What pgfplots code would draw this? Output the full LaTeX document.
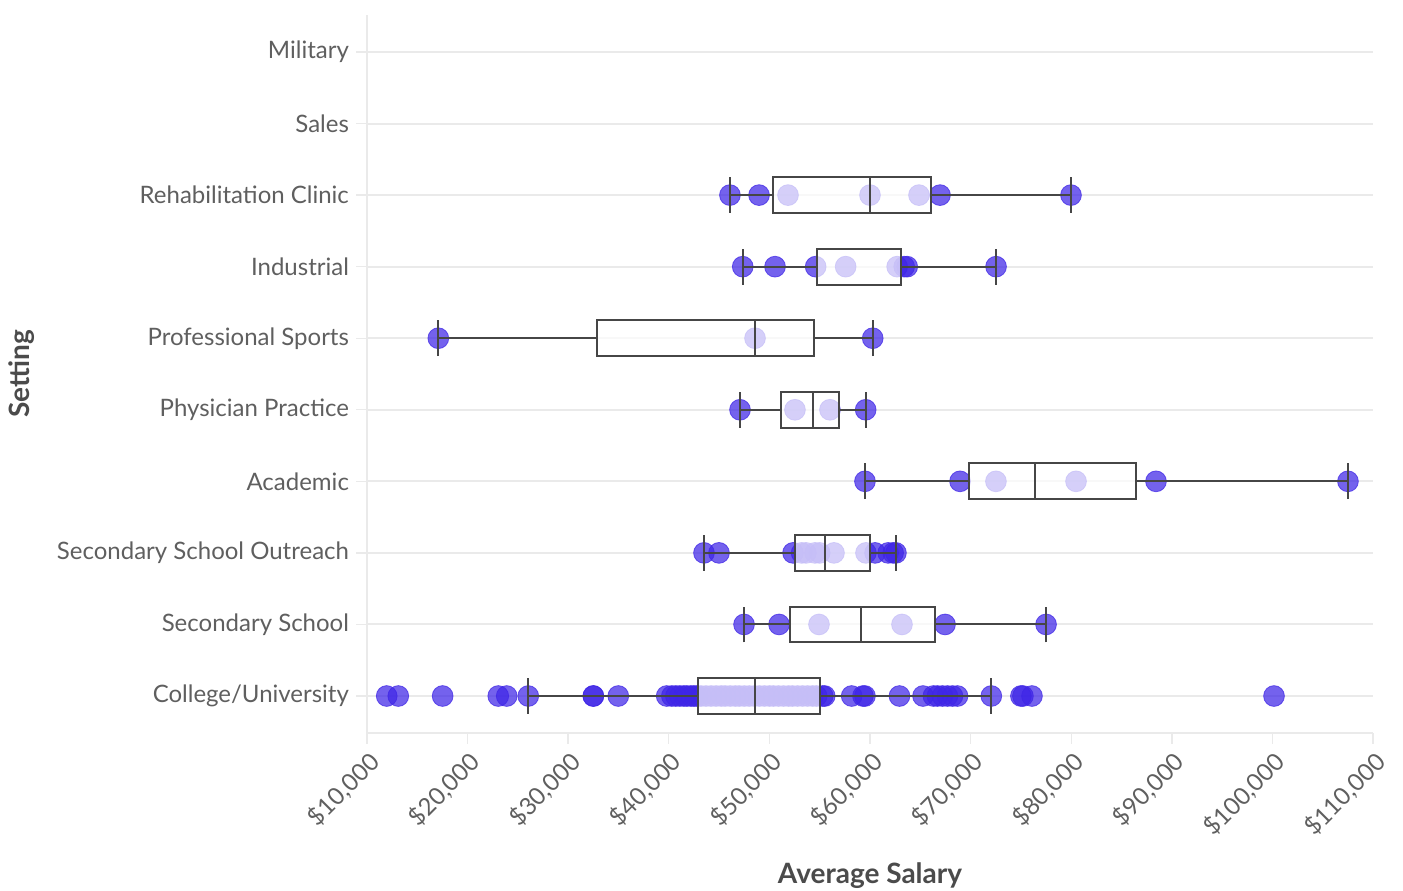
\documentclass[border=0pt]{standalone}
\usepackage{pgfplots}
\pgfplotsset{compat=1.18}
\usepgfplotslibrary{statistics}
\usepackage{pgfplotstable}
\usepackage{fontspec}
\setmainfont{Lato}
\definecolor{ptc}{RGB}{62,37,230}
\definecolor{gridc}{RGB}{234,234,234}
\definecolor{boxc}{RGB}{70,70,70}
\definecolor{txt}{RGB}{95,95,95}
\definecolor{lab}{RGB}{75,75,75}

% salary points, y = category index (0 = College/University ... 9 = Military)
\pgfplotstableread{
x y
46080 7
48970 7
51850 7
60000 7
64870 7
66960 7
79980 7
47350 6
50560 6
54600 6
57580 6
62700 6
63400 6
63700 6
72530 6
17090 5
48570 5
60270 5
47080 4
52540 4
56020 4
59570 4
59500 3
68950 3
72520 3
80480 3
88430 3
107510 3
43500 2
44990 2
52350 2
53200 2
53640 2
54530 2
55000 2
56420 2
59600 2
60500 2
61800 2
62300 2
62580 2
47480 1
50960 1
54930 1
63180 1
67460 1
77500 1
11960 0
13110 0
17520 0
23050 0
23890 0
26030 0
32500 0
32500 0
34980 0
39790 0
40300 0
40700 0
41100 0
41500 0
41800 0
42200 0
42500 0
42800 0
43200 0
43700 0
44200 0
44700 0
45200 0
45600 0
46100 0
46600 0
47000 0
47500 0
48000 0
48500 0
49000 0
49500 0
50000 0
50400 0
50900 0
51400 0
51900 0
52300 0
52800 0
53300 0
53800 0
54300 0
54700 0
55300 0
55500 0
58180 0
59300 0
59500 0
62930 0
65270 0
66300 0
66700 0
67200 0
67700 0
68200 0
68700 0
72060 0
75000 0
75200 0
76100 0
100160 0
}\pts

\begin{document}
\begin{tikzpicture}
\begin{axis}[
  scale only axis, width=503pt, height=359pt,
  clip mode=individual,
  xmin=10000, xmax=110000, ymin=-0.517, ymax=9.517,
  axis x line*=bottom, axis y line*=left,
  x axis line style={gridc, line width=1.3pt, -},
  y axis line style={gridc, line width=0.6pt, -},
  tick align=outside, major tick length=5.5pt,
  tick style={gridc, line width=0.7pt},
  xtick={10000,20000,...,110000},
  xticklabels={{\$10,000},{\$20,000},{\$30,000},{\$40,000},{\$50,000},{\$60,000},{\$70,000},{\$80,000},{\$90,000},{\$100,000},{\$110,000}},
  scaled x ticks=false,
  xticklabel style={rotate=45, anchor=north east, font=\fontsize{12}{14}\selectfont, text=txt, inner sep=2pt},
  ytick={0,...,9},
  yticklabels={College/University, Secondary School, Secondary School Outreach, Academic, Physician Practice, Professional Sports, Industrial, Rehabilitation Clinic, Sales, Military},
  yticklabel style={font=\fontsize{12}{14}\selectfont, text=txt},
  ymajorgrids, grid style={gridc, line width=1pt},
  xlabel={Average Salary}, ylabel={Setting},
  xlabel style={at={(axis description cs:0.5,-0.198)}, anchor=center, font=\bfseries\fontsize{14}{16}\selectfont, text=lab},
  ylabel style={at={(axis description cs:-0.343,0.5)}, anchor=center, font=\bfseries\fontsize{14}{16}\selectfont, text=lab},
  boxplot/box extend=0.5, boxplot/whisker extend=0.5,
]
\addplot[only marks, mark=*, mark size=5.2pt, mark options={fill=ptc, draw=ptc, fill opacity=0.72, draw opacity=0.72}] table[x=x, y=y] {\pts};

\addplot[boxplot prepared={lower whisker=46080, lower quartile=50330, median=60000, upper quartile=66060, upper whisker=79980, draw position=7}, draw=boxc, line width=1pt, fill=white, fill opacity=0.7] coordinates {};
\addplot[boxplot prepared={lower whisker=47350, lower quartile=54700, median=54700, upper quartile=63080, upper whisker=72530, draw position=6}, draw=boxc, line width=1pt, fill=white, fill opacity=0.7] coordinates {};
\addplot[boxplot prepared={lower whisker=17090, lower quartile=32830, median=48570, upper quartile=54460, upper whisker=60270, draw position=5}, draw=boxc, line width=1pt, fill=white, fill opacity=0.7] coordinates {};
\addplot[boxplot prepared={lower whisker=47080, lower quartile=51150, median=54360, upper quartile=56950, upper whisker=59570, draw position=4}, draw=boxc, line width=1pt, fill=white, fill opacity=0.7] coordinates {};
\addplot[boxplot prepared={lower whisker=59500, lower quartile=69840, median=76400, upper quartile=86440, upper whisker=107510, draw position=3}, draw=boxc, line width=1pt, fill=white, fill opacity=0.7] coordinates {};
\addplot[boxplot prepared={lower whisker=43500, lower quartile=52540, median=55520, upper quartile=60000, upper whisker=62580, draw position=2}, draw=boxc, line width=1pt, fill=white, fill opacity=0.7] coordinates {};
\addplot[boxplot prepared={lower whisker=47480, lower quartile=52050, median=59110, upper quartile=66460, upper whisker=77500, draw position=1}, draw=boxc, line width=1pt, fill=white, fill opacity=0.7] coordinates {};
\addplot[boxplot prepared={lower whisker=26030, lower quartile=42930, median=48570, upper quartile=55030, upper whisker=72060, draw position=0}, draw=boxc, line width=1pt, fill=white, fill opacity=0.7] coordinates {};
\end{axis}
\pgfresetboundingbox
\path[use as bounding box] (-183.5pt,-78.5pt) rectangle (518pt,366.5pt);
\end{tikzpicture}
\end{document}
